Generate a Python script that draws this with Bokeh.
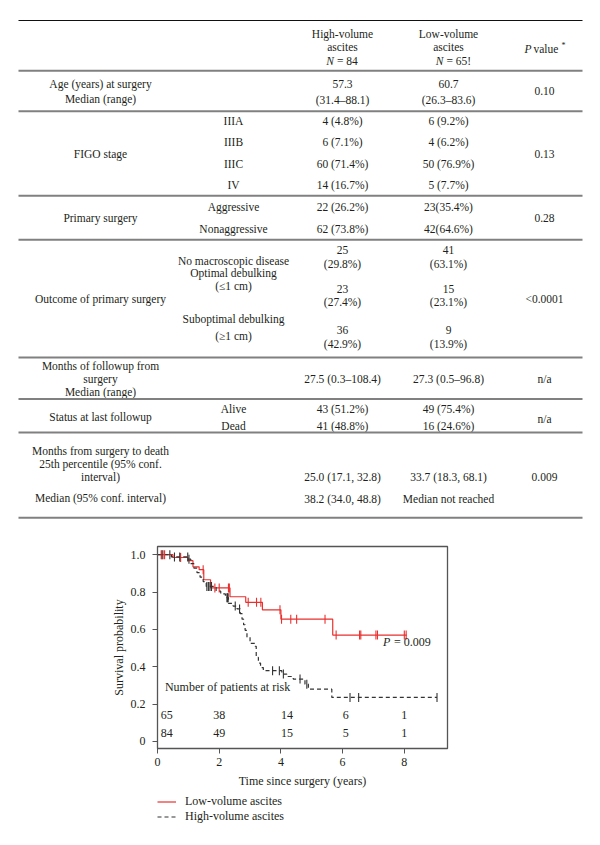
import numpy as np
from bokeh.plotting import figure
from bokeh.models import ColumnDataSource, Range1d, FixedTicker, Legend, LegendItem
from bokeh.embed import file_html
from bokeh.resources import INLINE
from bokeh.core.properties import value

# ---------------- table data ----------------
head_high = ["High-volume", "ascites"]
head_low = ["Low-volume", "ascites"]
n_high = "= 84"
n_low = "= 65!"
age_label = ["Age (years) at surgery", "Median (range)"]
age_high = ["57.3", "(31.4–88.1)"]
age_low = ["60.7", "(26.3–83.6)"]
figo_label = "FIGO stage"
figo_stages = ["IIIA", "IIIB", "IIIC", "IV"]
figo_high = ["4 (4.8%)", "6 (7.1%)", "60 (71.4%)", "14 (16.7%)"]
figo_low = ["6 (9.2%)", "4 (6.2%)", "50 (76.9%)", "5 (7.7%)"]
surg_label = "Primary surgery"
surg_types = ["Aggressive", "Nonaggressive"]
surg_high = ["22 (26.2%)", "62 (73.8%)"]
surg_low = ["23(35.4%)", "42(64.6%)"]
outc_label = "Outcome of primary surgery"
outc_types = ["No macroscopic disease", "Optimal debulking", "(≤1 cm)",
              "Suboptimal debulking", "(≥1 cm)"]
outc_high = ["25", "(29.8%)", "23", "(27.4%)", "36", "(42.9%)"]
outc_low = ["41", "(63.1%)", "15", "(23.1%)", "9", "(13.9%)"]
fup_label = ["Months of followup from", "surgery", "Median (range)"]
fup_high = "27.5 (0.3–108.4)"
fup_low = "27.3 (0.5–96.8)"
stat_label = "Status at last followup"
stat_types = ["Alive", "Dead"]
stat_high = ["43 (51.2%)", "41 (48.8%)"]
stat_low = ["49 (75.4%)", "16 (24.6%)"]
death_label = ["Months from surgery to death", "25th percentile (95% conf.",
               "interval)", "Median (95% conf. interval)"]
death_high = ["25.0 (17.1, 32.8)", "38.2 (34.0, 48.8)"]
death_low = ["33.7 (18.3, 68.1)", "Median not reached"]
p_values = ["0.10", "0.13", "0.28", "<0.0001", "n/a", "n/a", "0.009"]

# ---------------- Kaplan-Meier data ----------------
low_t = [0.00, 0.50, 0.99, 1.15, 1.35, 1.50, 1.72, 2.35, 2.86, 3.40, 4.00, 5.68]
low_s = [1.000, 0.985, 0.968, 0.935, 0.920, 0.866, 0.822, 0.775, 0.745, 0.705, 0.655, 0.570]
low_end = 8.08
low_cens = [0.12, 0.18, 0.23, 0.75, 1.48, 1.86, 2.00, 2.30, 2.33, 2.94, 3.21, 3.35,
            3.97, 4.02, 4.32, 4.51, 5.43, 5.79, 6.55, 6.59, 7.08, 7.13, 8.00, 8.06]

high_t = [0.00, 0.45, 1.00, 1.08, 1.18, 1.28, 1.38, 1.48, 1.58, 1.90, 2.05, 2.20, 2.30,
          2.45, 2.58, 2.68, 2.74, 2.79, 2.84, 2.90, 3.00, 3.16, 3.20, 3.27, 3.34, 3.43,
          4.03, 4.19, 4.40, 4.78, 4.89, 5.65]
high_s = [1.000, 0.988, 0.976, 0.952, 0.928, 0.904, 0.880, 0.856, 0.830, 0.805, 0.790,
          0.770, 0.740, 0.725, 0.710, 0.685, 0.655, 0.625, 0.595, 0.560, 0.525, 0.510,
          0.450, 0.420, 0.396, 0.379, 0.361, 0.348, 0.334, 0.307, 0.280, 0.236]
high_end = 9.06
high_cens = [0.15, 0.40, 0.55, 0.72, 0.98, 1.02, 1.60, 1.65, 1.70, 1.75, 2.25, 2.27,
             2.29, 2.52, 2.66, 3.73, 3.95, 4.08, 4.62, 4.84, 6.24, 6.52, 9.06]

risk_low = ["65", "38", "14", "6", "1"]
risk_high = ["84", "49", "15", "5", "1"]
risk_x = [0.3, 2.0, 4.2, 6.1, 8.0]

x_ticks = [0, 2, 4, 6, 8]
y_ticks = [0, 0.2, 0.4, 0.6, 0.8, 1.0]
y_tick_labels = ["0", "0.2", "0.4", "0.6", "0.8", "1.0"]
legend_labels = ["Low-volume ascites", "High-volume ascites"]

FONT = "Liberation Serif"
TXT = "#231f20"
RED = "#e8312f"
DARK = "#333333"
W = 584

# ======================= TABLE FIGURE =======================
T_H = 525
tp = figure(width=W, height=T_H, x_range=Range1d(0, W), y_range=Range1d(T_H, 0),
            output_backend="svg", toolbar_location=None, x_axis_type=None,
            y_axis_type=None, min_border=0)
tp.outline_line_color = None

C1, C2, C3, C4, C5 = 100, 233, 342, 448, 544
cells = []


def add(t, x, y):
    cells.append((t, x, y))


add(head_high[0], C3, 33.3); add(head_high[1], C3, 46.7)
add(head_low[0], C4, 33.3); add(head_low[1], C4, 46.7)
# age
add(age_label[0], C1, 83.3); add(age_label[1], C1, 98.3)
add(age_high[0], C3, 83.3); add(age_high[1], C3, 99.3)
add(age_low[0], C4, 83.3); add(age_low[1], C4, 99.3)
add(p_values[0], C5, 90.7)
# figo
for st, hv, lv, y in zip(figo_stages, figo_high, figo_low, [120.7, 141.7, 163.3, 184.0]):
    add(st, C2, y); add(hv, C3, y); add(lv, C4, y)
add(figo_label, C1, 153.3); add(p_values[1], C5, 153.3)
# primary surgery
for st, hv, lv, y in zip(surg_types, surg_high, surg_low, [206.7, 228.3]):
    add(st, C2, y); add(hv, C3, y); add(lv, C4, y)
add(surg_label, C1, 217.3); add(p_values[2], C5, 217.3)
# outcome
for st, y in zip(outc_types, [260.7, 272.7, 285.0, 318.3, 335.0]):
    add(st, C2, y)
for hv, lv, y in zip(outc_high, outc_low, [249.3, 263.3, 288.3, 301.7, 329.3, 343.3]):
    add(hv, C3, y); add(lv, C4, y)
add(outc_label, C1, 298.3); add(p_values[3], C5, 298.3)
# followup
for lb, y in zip(fup_label, [365.0, 378.3, 391.5]):
    add(lb, C1, y)
add(fup_high, C3, 378.3); add(fup_low, C4, 378.3); add(p_values[4], C5, 378.3)
# status
for st, hv, lv, y in zip(stat_types, stat_high, stat_low, [408.3, 425.5]):
    add(st, C2, y); add(hv, C3, y); add(lv, C4, y)
add(stat_label, C1, 416.7); add(p_values[5], C5, 418.0)
# death
for lb, y in zip(death_label, [450.0, 463.3, 476.5, 497.3]):
    add(lb, C1, y)
for hv, lv, y in zip(death_high, death_low, [476.0, 498.0]):
    add(hv, C3, y); add(lv, C4, y)
add(p_values[6], C5, 476.0)

src = ColumnDataSource(dict(text=[c[0] for c in cells], x=[c[1] for c in cells],
                            y=[c[2] for c in cells]))
tp.text(x="x", y="y", text="text", source=src, text_font=value(FONT),
        text_font_size="11.5px", text_color=TXT, text_align="center",
        text_baseline="middle")

# italic N and P pieces of the header
tp.text(x=[C3 - 8.5, C4 - 5], y=[60, 60], text=["N", "N"], text_font=value(FONT),
        text_font_size="11.5px", text_font_style="italic", text_color=TXT,
        text_align="right", text_baseline="middle")
tp.text(x=[C3 - 5.5, C4 - 2], y=[60, 60], text=[n_high, n_low], text_font=value(FONT),
        text_font_size="11.5px", text_color=TXT, text_align="left",
        text_baseline="middle")
tp.text(x=[C5 - 20], y=[48.3], text=["P"], text_font=value(FONT),
        text_font_size="11.5px", text_font_style="italic", text_color=TXT,
        text_align="left", text_baseline="middle")
tp.text(x=[C5 - 11], y=[48.3], text=["value"], text_font=value(FONT),
        text_font_size="11.5px", text_color=TXT, text_align="left",
        text_baseline="middle")
tp.text(x=[C5 + 17], y=[44.5], text=["*"], text_font=value(FONT),
        text_font_size="8px", text_color=TXT, text_align="left",
        text_baseline="middle")

# rules
tp.segment(x0=[18], x1=[582], y0=[20], y1=[20], line_color="#111111", line_width=1.2)
rule_y = [70.3, 110.7, 195.3, 239.3, 357.0, 398.5, 432.0, 517.3]
tp.segment(x0=[18] * len(rule_y), x1=[582] * len(rule_y), y0=rule_y, y1=rule_y,
           line_color="#808080", line_width=2)

# ======================= KM FIGURE =======================
kp = figure(width=W, height=269, x_range=Range1d(0, 9.4),
            y_range=Range1d(-0.0375, 1.044), output_backend="svg",
            toolbar_location=None, min_border_left=157, min_border_right=137,
            min_border_top=21, min_border_bottom=46)
kp.grid.visible = False
kp.outline_line_color = "#555555"
kp.outline_line_width = 1.3

kp.xaxis.ticker = FixedTicker(ticks=x_ticks)
kp.yaxis.ticker = FixedTicker(ticks=y_ticks)
kp.yaxis.major_label_overrides = {t: l for t, l in zip(y_ticks, y_tick_labels)}
for ax in (kp.xaxis[0], kp.yaxis[0]):
    ax.major_tick_out = 5
    ax.major_tick_in = 0
    ax.minor_tick_out = 0
    ax.minor_tick_in = 0
    ax.axis_line_color = "#555555"
    ax.major_tick_line_color = "#555555"
    ax.major_label_text_font = FONT
    ax.major_label_text_font_size = "12px"
    ax.major_label_text_color = TXT
    ax.axis_label_text_font = FONT
    ax.axis_label_text_font_size = "12px"
    ax.axis_label_text_font_style = "normal"
    ax.axis_label_text_color = TXT
kp.xaxis.major_label_standoff = 4
kp.xaxis.axis_label_standoff = 5
kp.yaxis.major_label_standoff = 7
kp.yaxis.axis_label_standoff = 2
kp.xaxis.axis_label = "Time since surgery (years)"
kp.yaxis.axis_label = "Survival probability"

lx = list(low_t) + [low_end]
ly = list(low_s) + [low_s[-1]]
hx = list(high_t) + [high_end]
hy = list(high_s) + [high_s[-1]]
kp.step(x=lx, y=ly, mode="after", line_color=RED, line_width=1.2)
kp.step(x=hx, y=hy, mode="after", line_color=DARK, line_width=1.2, line_dash="4 3")


def surv_at(ts, ss, c):
    idx = np.searchsorted(np.array(ts), np.array(c), side="right") - 1
    return list(np.array(ss)[idx])


kp.scatter(x=low_cens, y=surv_at(low_t, low_s, low_cens), marker="dash",
           angle=np.pi / 2, size=9, line_color=RED, line_width=1.1)
kp.scatter(x=high_cens, y=surv_at(high_t, high_s, high_cens), marker="dash",
           angle=np.pi / 2, size=9, line_color=DARK, line_width=1.1)

kp.text(x=[7.31], y=[0.535], text=["P"], text_font=value(FONT), text_font_size="12px",
        text_font_style="italic", text_color=TXT, text_align="left",
        text_baseline="middle")
kp.text(x=[7.31], y=[0.535], x_offset=11, text=["= 0.009"], text_font=value(FONT),
        text_font_size="12px", text_color=TXT, text_align="left",
        text_baseline="middle")
kp.text(x=[0.24], y=[0.29], text=["Number of patients at risk"], text_font=value(FONT),
        text_font_size="12px", text_color=TXT, text_align="left",
        text_baseline="middle")
kp.text(x=risk_x, y=[0.141] * len(risk_x), text=risk_low, text_font=value(FONT),
        text_font_size="12px", text_color=TXT, text_align="center",
        text_baseline="middle")
kp.text(x=risk_x, y=[0.043] * len(risk_x), text=risk_high, text_font=value(FONT),
        text_font_size="12px", text_color=TXT, text_align="center",
        text_baseline="middle")

# ======================= LEGEND FIGURE =======================
lg = figure(width=W, height=36, x_range=Range1d(0, W), y_range=Range1d(36, 0),
            output_backend="svg", toolbar_location=None, x_axis_type=None,
            y_axis_type=None, min_border=0)
lg.outline_line_color = None
nan = np.array([np.nan])
g_low = lg.line(x=nan, y=nan, line_color=RED, line_width=1.2)
g_high = lg.line(x=nan, y=nan, line_color=DARK, line_width=1.2, line_dash="4 3")
legend = Legend(items=[LegendItem(label=legend_labels[0], renderers=[g_low]),
                       LegendItem(label=legend_labels[1], renderers=[g_high])],
                location=(157, 6), orientation="vertical",
                label_text_font=FONT, label_text_font_size="12px",
                label_text_color=TXT, glyph_width=19, glyph_height=15,
                label_height=15, label_standoff=9, spacing=0, padding=0, margin=0,
                border_line_alpha=0, background_fill_alpha=0)
lg.add_layout(legend, "center")

open("out.html", "w").write(file_html([tp, kp, lg], INLINE))
